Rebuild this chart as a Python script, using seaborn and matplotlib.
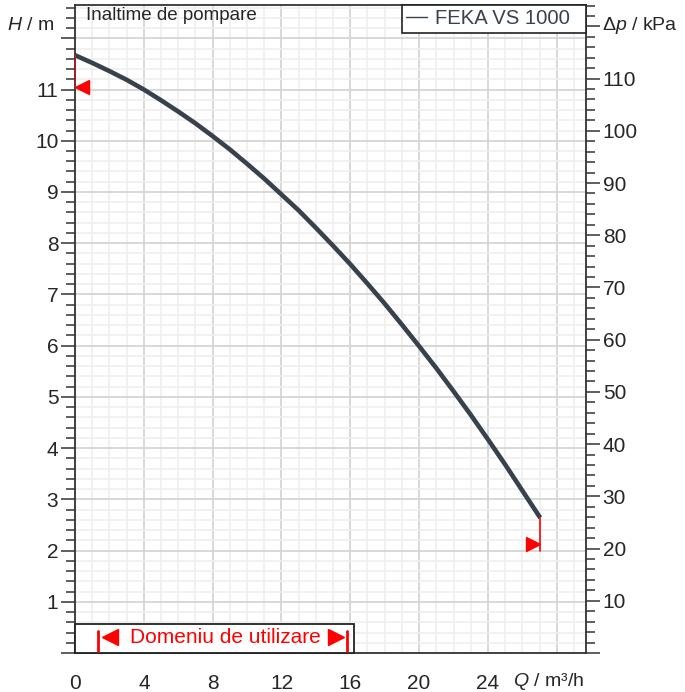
import numpy as np
import pandas as pd
import seaborn as sns
import matplotlib.pyplot as plt
from matplotlib.lines import Line2D
from matplotlib.patches import Rectangle
from matplotlib.ticker import MultipleLocator, FuncFormatter

# pump curve (Q in m3/h, H in m)
q = [0, 1, 2, 3, 4, 5, 6, 7, 8, 9, 10, 11, 12, 13, 14, 15, 16, 17, 18, 19,
     20, 21, 22, 23, 24, 25, 26, 27, 27.05]
h = [11.67, 11.52, 11.36, 11.19, 11.00, 10.79, 10.57, 10.34, 10.09, 9.83,
     9.55, 9.26, 8.95, 8.64, 8.30, 7.95, 7.59, 7.21, 6.82, 6.41,
     5.99, 5.56, 5.11, 4.65, 4.17, 3.68, 3.17, 2.66, 2.64]
pump_name = 'FEKA VS 1000'

# operating range markers
domain_q = [1.35, 15.8]     # Q min / Q max of usage range
h_top_mark = 11.05          # left red marker
h_end_mark = 2.12           # right red marker
h_end_low = 2.0

x_max = 29.7
y_max = 12.65
rho_g = 9.81                # kPa per m
curve_col = '#38424c'

sns.set_style('white')
plt.rcParams['font.family'] = ['Liberation Sans', 'DejaVu Sans']
plt.rcParams['mathtext.fontset'] = 'custom'
plt.rcParams['mathtext.rm'] = 'Liberation Sans'
plt.rcParams['mathtext.it'] = 'Liberation Sans:italic'

fig = plt.figure(figsize=(6.85, 6.92), dpi=100)
ax = fig.add_axes([75/685, 39/692, 511/685, 648/692])

df = pd.DataFrame({'Q': q, 'H': h})
sns.lineplot(data=df, x='Q', y='H', ax=ax, color=curve_col, lw=3.3,
             label=pump_name, zorder=3, solid_capstyle='butt')

ax.set_xlim(0, x_max)
ax.set_ylim(0, y_max)
ax.set_xlabel('')
ax.set_ylabel('')

# grid
ax.xaxis.set_major_locator(MultipleLocator(4))
ax.xaxis.set_minor_locator(MultipleLocator(1))
ax.yaxis.set_major_locator(MultipleLocator(1))
ax.yaxis.set_minor_locator(MultipleLocator(0.2))
ax.grid(which='major', color='#d5d5d5', lw=1.3, zorder=0)
ax.grid(which='minor', color='#eeeeee', lw=1.1, zorder=0)
ax.set_axisbelow(True)

ax.xaxis.set_major_formatter(FuncFormatter(lambda v, p: '' if v >= 28 else f'{v:g}'))
ax.yaxis.set_major_formatter(FuncFormatter(lambda v, p: '' if v < 0.5 or v > 11.5 else f'{v:g}'))
ax.tick_params(which='major', direction='out', length=10, width=1.1, color='#333333',
               labelsize=15, pad=2)
ax.tick_params(which='minor', direction='out', length=6.5, width=1.1, color='#333333')
ax.tick_params(axis='x', which='major', pad=5)

for s in ax.spines.values():
    s.set_color('#333333')
    s.set_linewidth(1.3)

# right axis in kPa
ax2 = ax.twinx()
ax2.set_ylim(0, y_max * rho_g)
ax2.yaxis.set_major_locator(MultipleLocator(10))
ax2.yaxis.set_minor_locator(MultipleLocator(2))
ax2.yaxis.set_major_formatter(FuncFormatter(lambda v, p: '' if v < 5 or v > 115 else f'{v:g}'))
ax2.tick_params(which='major', direction='out', length=10, width=1.1, color='#333333',
                labelsize=15, pad=2)
ax2.tick_params(which='minor', direction='out', length=6.5, width=1.1, color='#333333')
for s in ax2.spines.values():
    s.set_visible(False)

# red end markers on the curve
ax.plot([0, 0], [h[0], h_top_mark], color='red', lw=1.2, zorder=4)
ax.plot([0.41], [h_top_mark], marker='<', color='red', markersize=10, ls='none', zorder=4)
ax.plot([q[-1], q[-1]], [h[-1], h_end_low], color='red', lw=1.2, zorder=4)
ax.plot([q[-1] - 0.41], [h_end_mark], marker='>', color='red', markersize=10, ls='none', zorder=4)

# usage range box
ax.add_patch(Rectangle((0, 0), 16.2, 0.57, facecolor='white', edgecolor='#222222',
                       lw=1.3, zorder=4, clip_on=False))
for qd in domain_q:
    ax.plot([qd, qd], [0.03, 0.43], color='red', lw=2, zorder=5)
y_dom = 0.31
ax.plot([domain_q[0] + 0.7], [y_dom], marker='<', color='red', markersize=11, ls='none', zorder=5)
ax.plot([domain_q[1] - 0.62], [y_dom], marker='>', color='red', markersize=11, ls='none', zorder=5)
ax.text(sum(domain_q) / 2 + 0.15, y_dom, 'Domeniu de utilizare', color='red', fontsize=15,
        ha='center', va='center', zorder=6)

# legend
leg = ax.legend(handles=[Line2D([], [], color=curve_col, lw=1)], labels=[pump_name + '  '],
                loc='upper right', borderaxespad=0, fancybox=False, framealpha=1,
                edgecolor='#222222', fontsize=14.6, handlelength=1.05, handletextpad=0.4,
                borderpad=0.22, labelcolor=curve_col)
leg.get_frame().set_linewidth(1.2)
leg.set_zorder(10)

# texts
fig.text(86/685, 1 - 16/692, 'Inaltime de pompare', fontsize=13.5, va='center', ha='left')
fig.text(54/685, 1 - 25/692, '$H$ / m', fontsize=14, va='center', ha='right')
fig.text(602/685, 1 - 26/692, '$\\Delta p$ / kPa', fontsize=14, va='center', ha='left')
fig.text(584/685, 1 - 682/692, '$Q$ / m³/h', fontsize=14, va='center', ha='right')

fig.savefig('out.png', dpi=100)
